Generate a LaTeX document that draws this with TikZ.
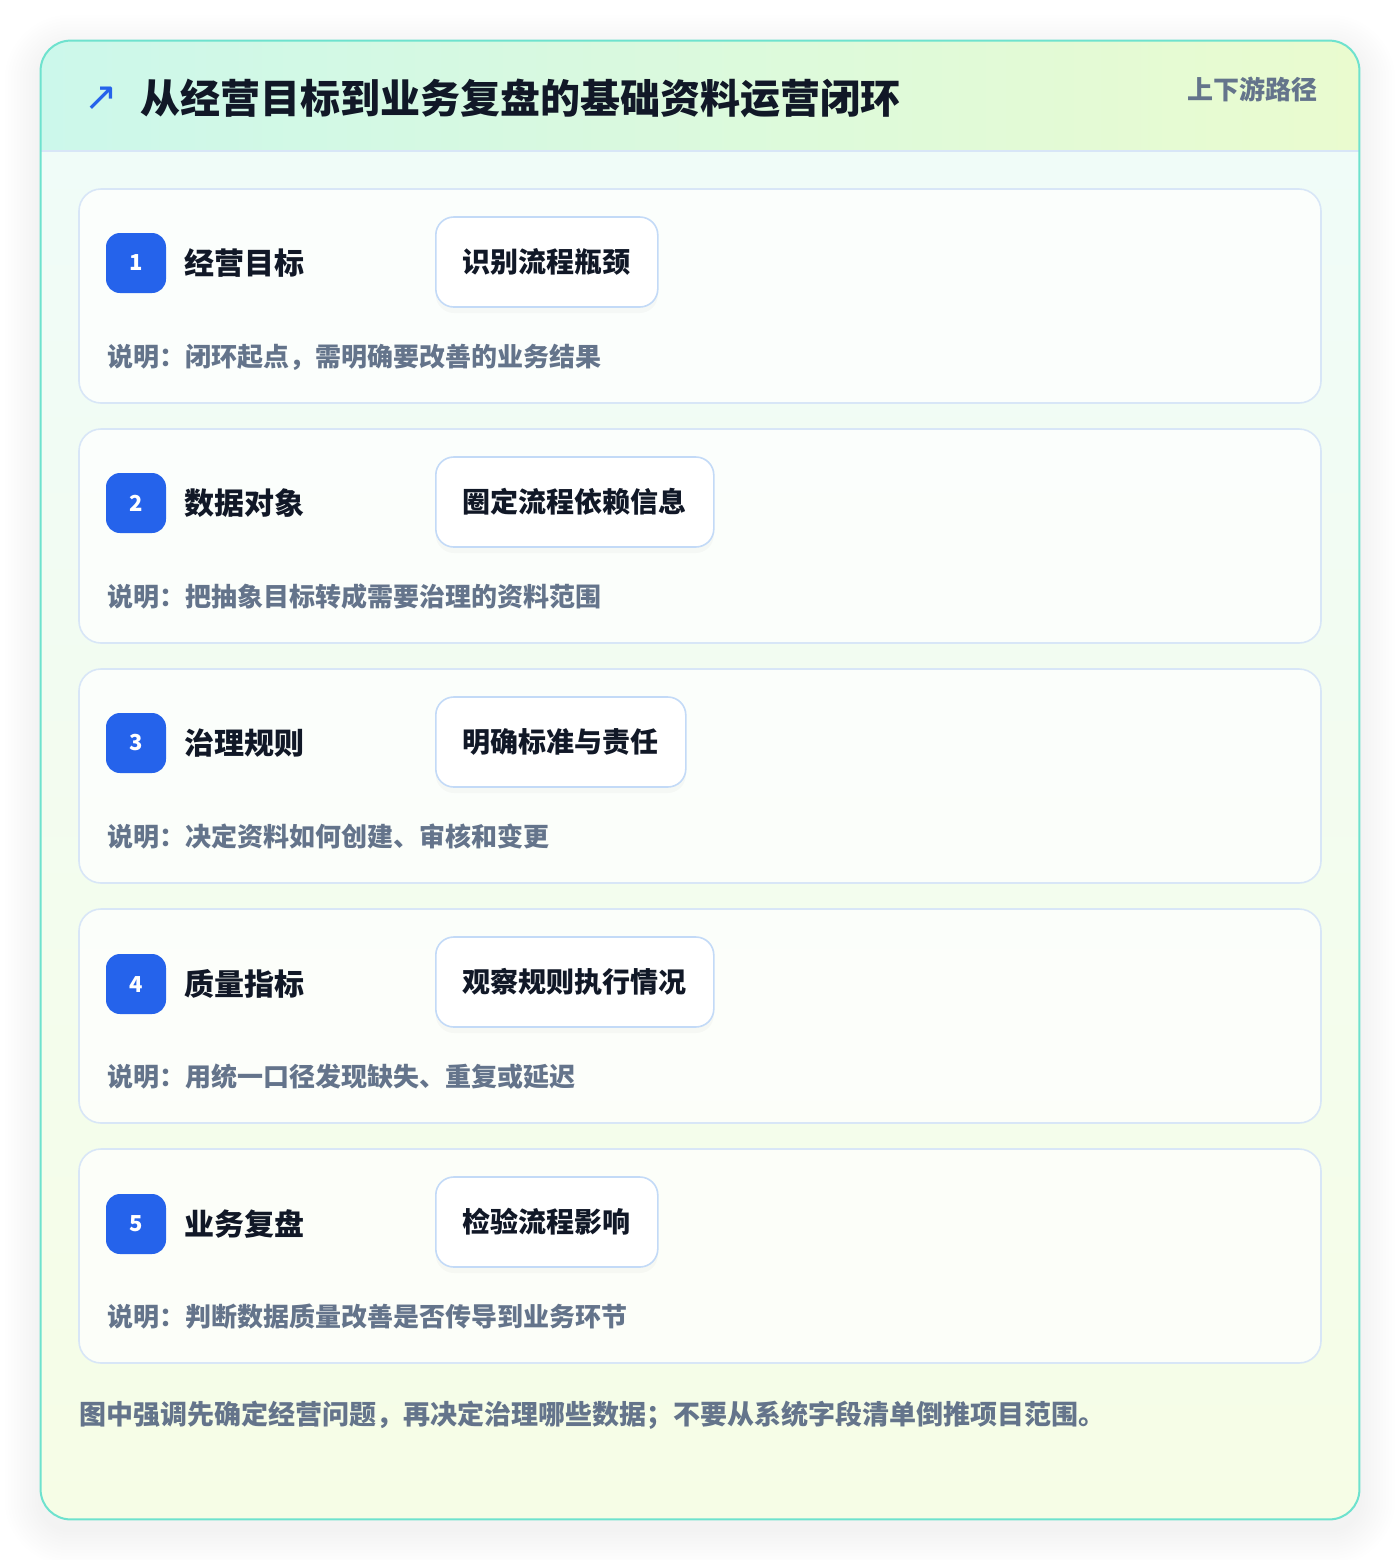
\documentclass[tikz,border=0pt]{standalone}
\usepackage{fontspec}
\setmainfont{Noto Sans CJK SC}
\newfontfamily\symfont{DejaVu Sans}
\usepackage{tikz}
\usetikzlibrary{positioning}
\definecolor{loopteal}{RGB}{110,226,206}
\definecolor{headleft}{RGB}{204,248,235}
\definecolor{headright}{RGB}{234,251,207}
\definecolor{bodytop}{RGB}{240,252,248}
\definecolor{bodybot}{RGB}{246,253,230}
\definecolor{lineblue}{RGB}{216,230,247}
\definecolor{chipblue}{RGB}{195,218,247}
\definecolor{badgeblue}{RGB}{37,99,235}
\definecolor{inkdark}{RGB}{17,24,39}
\definecolor{inkgray}{RGB}{100,116,139}

\begin{document}
\begin{tikzpicture}[
    x=0.5pt, y=-0.5pt,
    frame/.style={rectangle, draw=none, rounded corners=15pt, minimum width=659pt, minimum height=739pt, inner sep=0pt},
    stepcard/.style={rectangle, draw=lineblue, line width=0.8pt, fill=white, fill opacity=0.75, rounded corners=11pt, minimum width=621pt, minimum height=107pt, inner sep=0pt},
    badge/.style={rectangle, fill=badgeblue, rounded corners=7pt, minimum width=30pt, minimum height=30pt, inner sep=0pt, text=white, font=\fontsize{11}{13}\selectfont\bfseries},
    steptitle/.style={inner sep=0pt, text=inkdark, font=\fontsize{15}{18}\selectfont\bfseries},
    chip/.style={rectangle, draw=chipblue, line width=0.8pt, fill=white, rounded corners=9pt, minimum height=45pt, inner xsep=13.5pt, inner ysep=0pt, text=inkdark, font=\fontsize{14}{17}\selectfont\bfseries,
        preaction={draw=none, fill=black, fill opacity=0.025, transform canvas={yshift=-3pt}}},
    note/.style={inner sep=0pt, text=inkgray, font=\fontsize{13}{16}\selectfont\bfseries}
]
    \useasboundingbox (0,0) rectangle (1400,1560);
    \fill[white] (0,0) rectangle (1400,1560);

    % outer panel, soft shadow and header band
    \node[frame] (frame) at (700,780) {};
    \foreach \g in {1,...,12}
        \fill[black, fill opacity=0.005, rounded corners=15pt+\g*1.5pt]
            ([xshift=-\g*1.5pt, yshift=\g*1.5pt-5pt]frame.north west) rectangle ([xshift=\g*1.5pt, yshift=-\g*1.5pt-5pt]frame.south east);
    \fill[white, rounded corners=15pt] (frame.north west) rectangle (frame.south east);
    \begin{scope}
        \clip[rounded corners=15pt] (frame.north west) rectangle (frame.south east);
        \shade[top color=bodytop, bottom color=bodybot] (41,151) rectangle (1359,1519);
        \shade[left color=headleft, right color=headright] (41,41) rectangle (1359,151);
    \end{scope}
    \draw[lineblue, line width=0.8pt] (41,151) -- (1359,151);
    \draw[loopteal, line width=1pt, rounded corners=15pt] (frame.north west) rectangle (frame.south east);

    \node[text=badgeblue, font=\symfont\fontsize{20}{22}\selectfont, inner sep=0pt] (icon) at (101,99) {↗};
    \node[inner sep=0pt, anchor=west, text=inkdark, font=\fontsize{20}{24}\selectfont\bfseries] (heading) at (140,98) {从经营目标到业务复盘的基础资料运营闭环};
    \node[inner sep=0pt, anchor=east, text=inkgray, font=\fontsize{13}{16}\selectfont\bfseries] (pathtag) at (1318,89) {上下游路径};

    % step 1
    \node[stepcard] (card1) at (700,296) {};
    \node[badge] (num1) at (136,263) {1};
    \node[steptitle, right=9pt of num1] (title1) {经营目标};
    \node[chip, anchor=west] (chip1) at (435,262) {识别流程瓶颈};
    \node[note, anchor=west] (note1) at (107,357) {说明：闭环起点，需明确要改善的业务结果};

    % step 2
    \node[stepcard] (card2) at (700,536) {};
    \node[badge] (num2) at (136,503) {2};
    \node[steptitle, right=9pt of num2] (title2) {数据对象};
    \node[chip, anchor=west] (chip2) at (435,502) {圈定流程依赖信息};
    \node[note, anchor=west] (note2) at (107,597) {说明：把抽象目标转成需要治理的资料范围};

    % step 3
    \node[stepcard] (card3) at (700,776) {};
    \node[badge] (num3) at (136,743) {3};
    \node[steptitle, right=9pt of num3] (title3) {治理规则};
    \node[chip, anchor=west] (chip3) at (435,742) {明确标准与责任};
    \node[note, anchor=west] (note3) at (107,837) {说明：决定资料如何创建、审核和变更};

    % step 4
    \node[stepcard] (card4) at (700,1016) {};
    \node[badge] (num4) at (136,984) {4};
    \node[steptitle, right=9pt of num4] (title4) {质量指标};
    \node[chip, anchor=west] (chip4) at (435,982) {观察规则执行情况};
    \node[note, anchor=west] (note4) at (107,1077) {说明：用统一口径发现缺失、重复或延迟};

    % step 5
    \node[stepcard] (card5) at (700,1256) {};
    \node[badge] (num5) at (136,1224) {5};
    \node[steptitle, right=9pt of num5] (title5) {业务复盘};
    \node[chip, anchor=west] (chip5) at (435,1222) {检验流程影响};
    \node[note, anchor=west] (note5) at (107,1317) {说明：判断数据质量改善是否传导到业务环节};

    \node[note, anchor=west, font=\fontsize{13.5}{16}\selectfont\bfseries] (footnote) at (79,1415) {图中强调先确定经营问题，再决定治理哪些数据；不要从系统字段清单倒推项目范围。};
\end{tikzpicture}
\end{document}
